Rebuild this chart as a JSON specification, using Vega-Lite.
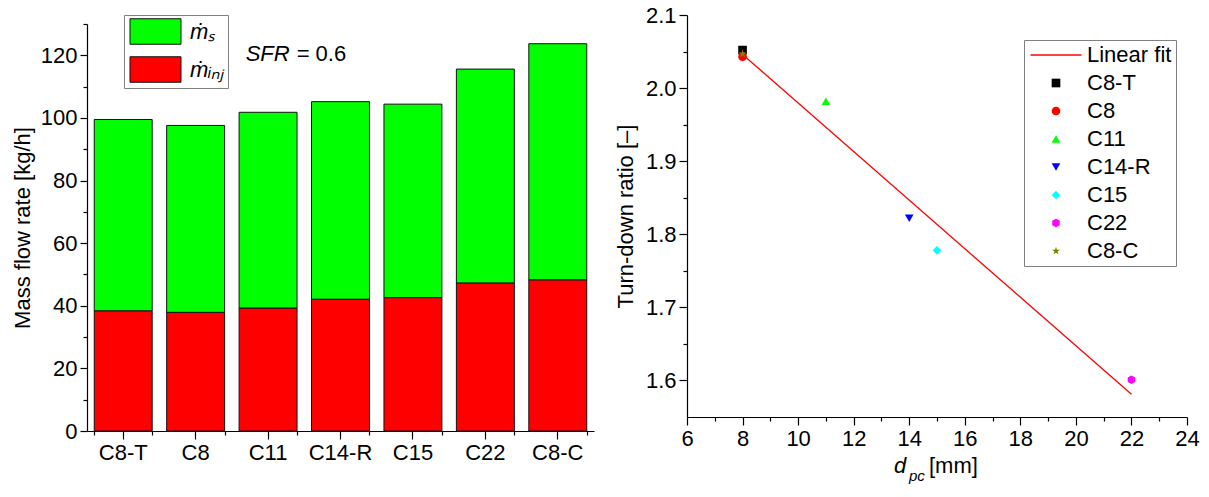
{
  "$schema": "https://vega.github.io/schema/vega-lite/v6.json",
  "padding": {"left": 11, "top": 4, "right": 5, "bottom": 5},
  "spacing": 20,
  "background": "white",
  "resolve": {"scale": {"color": "independent", "shape": "independent"}, "legend": {"color": "independent", "shape": "independent"}},
  "config": {
    "font": "Liberation Sans",
    "view": {"stroke": null},
    "axis": {
      "domainColor": "black", "domainWidth": 1.2, "tickColor": "black", "tickWidth": 1.2,
      "labelColor": "black", "labelFontSize": 22, "labelFont": "Liberation Sans",
      "titleFont": "Liberation Sans", "titleFontSize": 22, "titleFontWeight": "normal", "titleColor": "black",
      "grid": false, "labelPadding": 3, "labelOverlap": false, "labelFlush": false
    }
  },
  "hconcat": [
    {
      "width": 507,
      "height": 416,
      "data": {"values": [
        {"config": "C8-T", "comp": "inj", "value": 38.4},
        {"config": "C8-T", "comp": "s", "value": 61.1},
        {"config": "C8", "comp": "inj", "value": 37.9},
        {"config": "C8", "comp": "s", "value": 59.7},
        {"config": "C11", "comp": "inj", "value": 39.3},
        {"config": "C11", "comp": "s", "value": 62.5},
        {"config": "C14-R", "comp": "inj", "value": 42.1},
        {"config": "C14-R", "comp": "s", "value": 63.1},
        {"config": "C15", "comp": "inj", "value": 42.6},
        {"config": "C15", "comp": "s", "value": 61.8},
        {"config": "C22", "comp": "inj", "value": 47.3},
        {"config": "C22", "comp": "s", "value": 68.3},
        {"config": "C8-C", "comp": "inj", "value": 48.3},
        {"config": "C8-C", "comp": "s", "value": 75.4}
      ]},
      "layer": [
        {
          "mark": {"type": "bar", "stroke": "#111111", "strokeWidth": 1},
          "encoding": {
            "x": {"field": "config", "type": "nominal", "sort": ["C8-T", "C8", "C11", "C14-R", "C15", "C22", "C8-C"],
                  "scale": {"paddingInner": 0.2, "paddingOuter": 0.1},
                  "axis": {"title": null, "labelAngle": 0, "tickSize": 8, "labelPadding": 3}},
            "y": {"field": "value", "type": "quantitative", "stack": "zero",
                  "scale": {"domain": [0, 130], "range": [416, 9], "nice": false},
                  "axis": {"title": "Mass flow rate [kg/h]", "values": [0, 20, 40, 60, 80, 100, 120], "tickSize": 7, "titlePadding": 6}},
            "color": {"field": "comp", "type": "nominal",
                      "scale": {"domain": ["s", "inj"], "range": ["#00ff00", "#ff0000"]},
                      "legend": {"orient": "none", "legendX": 37, "legendY": 0, "title": null,
                                 "symbolType": "M-2,-1H2V1H-2Z", "symbolSize": 650,
                                 "symbolStrokeColor": "#111111", "symbolStrokeWidth": 1, "symbolOpacity": 1,
                                 "symbolOffset": 15, "labelOffset": 21, "padding": 3, "rowPadding": 7,
                                 "strokeColor": "#808080", "fillColor": "white",
                                 "labelFontSize": 22, "labelFont": "Liberation Sans", "labelFontStyle": "italic", "labelColor": "black",
                                 "labelExpr": "datum.value === 's' ? 'ṁₛ' : 'ṁᵢₙⱼ'"}},
            "order": {"field": "comp", "sort": "ascending"}
          }
        },
        {
          "mark": {"type": "point", "opacity": 0},
          "encoding": {
            "x": {"field": "config", "type": "nominal", "sort": ["C8-T", "C8", "C11", "C14-R", "C15", "C22", "C8-C"],
                  "axis": {"orient": "bottom", "title": null, "labels": false, "domain": false, "tickBand": "extent", "tickSize": 4}},
            "y": {"field": "value", "type": "quantitative", "stack": null,
                  "axis": {"orient": "left", "title": null, "labels": false, "domain": false, "values": [10, 30, 50, 70, 90, 110, 130], "tickSize": 4}}
          }
        },
        {
          "data": {"values": [{"t": "SFR"}]},
          "mark": {"type": "text", "align": "left", "baseline": "alphabetic", "fontSize": 22, "fontStyle": "italic", "font": "Liberation Sans", "dx": 50, "color": "black"},
          "encoding": {
            "x": {"datum": "C8", "type": "nominal", "axis": null},
            "y": {"datum": 118.3, "type": "quantitative", "axis": null},
            "text": {"field": "t"}
          }
        },
        {
          "data": {"values": [{"t": "= 0.6"}]},
          "mark": {"type": "text", "align": "left", "baseline": "alphabetic", "fontSize": 22, "font": "Liberation Sans", "dx": 101, "color": "black"},
          "encoding": {
            "x": {"datum": "C8", "type": "nominal", "axis": null},
            "y": {"datum": 118.3, "type": "quantitative", "axis": null},
            "text": {"field": "t"}
          }
        }
      ],
      "resolve": {"axis": {"x": "independent", "y": "independent"}}
    },
    {
      "width": 500,
      "height": 402,
      "layer": [
        {
          "data": {"values": [{"x": 8, "y": 2.046}, {"x": 22, "y": 1.581}]},
          "mark": {"type": "line", "color": "#ff0000", "strokeWidth": 1.3},
          "encoding": {
            "x": {"field": "x", "type": "quantitative", "axis": null},
            "y": {"field": "y", "type": "quantitative", "axis": null}
          }
        },
        {
          "data": {"values": [
            {"name": "C8-T", "x": 8, "y": 2.052},
            {"name": "C8", "x": 8, "y": 2.043},
            {"name": "C11", "x": 11, "y": 1.982},
            {"name": "C14-R", "x": 14, "y": 1.822},
            {"name": "C15", "x": 15, "y": 1.778},
            {"name": "C22", "x": 22, "y": 1.601},
            {"name": "C8-C", "x": 8, "y": 2.047}
          ]},
          "mark": {"type": "point", "filled": true, "opacity": 1, "size": 75},
          "encoding": {
            "x": {"field": "x", "type": "quantitative", "scale": {"domain": [6, 24], "nice": false, "zero": false},
                  "axis": {"title": null, "values": [6, 8, 10, 12, 14, 16, 18, 20, 22, 24], "tickSize": 8}},
            "y": {"field": "y", "type": "quantitative", "scale": {"domain": [1.55, 2.1], "nice": false, "zero": false},
                  "axis": {"title": "Turn-down ratio [–]", "values": [1.6, 1.7, 1.8, 1.9, 2.0, 2.1], "format": ".1f", "tickSize": 8, "titlePadding": 8}},
            "color": {"field": "name", "type": "nominal",
                      "scale": {"domain": ["Linear fit", "C8-T", "C8", "C11", "C14-R", "C15", "C22", "C8-C"],
                                "range": ["#ff0000", "#000000", "#ff0000", "#00ff00", "#0000ff", "#00ffff", "#ff00ff", "#808000"]},
                      "legend": {"orient": "none", "legendX": 337, "legendY": 25, "title": null,
                                 "symbolSize": 75, "symbolOffset": 17, "labelOffset": 20, "padding": 4, "rowPadding": 6,
                                 "strokeColor": "#808080", "fillColor": "white", "symbolOpacity": 1,
                                 "labelFontSize": 22, "labelFont": "Liberation Sans", "labelColor": "black",
                                 "encode": {"symbols": {"update": {
                                   "size": {"signal": "datum.value === 'Linear fit' ? 2601 : 75"},
                                   "stroke": {"signal": "datum.value === 'Linear fit' ? '#ff0000' : 'transparent'"},
                                   "strokeWidth": {"value": 1.5}}}}}},
            "shape": {"field": "name", "type": "nominal",
                      "scale": {"domain": ["Linear fit", "C8-T", "C8", "C11", "C14-R", "C15", "C22", "C8-C"],
                                "range": ["stroke", "square", "circle", "triangle-up", "triangle-down", "diamond",
                                          "M0,-1L0.866,-0.5L0.866,0.5L0,1L-0.866,0.5L-0.866,-0.5Z",
                                          "M0,-1L0.225,-0.309L0.951,-0.309L0.363,0.118L0.588,0.809L0,0.382L-0.588,0.809L-0.363,0.118L-0.951,-0.309L-0.225,-0.309Z"]},
                      "legend": {"orient": "none", "legendX": 337, "legendY": 25, "title": null,
                                 "symbolSize": 75, "symbolOffset": 17, "labelOffset": 20, "padding": 4, "rowPadding": 6,
                                 "strokeColor": "#808080", "fillColor": "white", "symbolOpacity": 1,
                                 "labelFontSize": 22, "labelFont": "Liberation Sans", "labelColor": "black",
                                 "encode": {"symbols": {"update": {
                                   "size": {"signal": "datum.value === 'Linear fit' ? 2601 : 75"},
                                   "stroke": {"signal": "datum.value === 'Linear fit' ? '#ff0000' : 'transparent'"},
                                   "strokeWidth": {"value": 1.5}}}}}}
          }
        },
        {
          "data": {"values": [{"x": 8, "y": 2.052}]},
          "mark": {"type": "point", "opacity": 0},
          "encoding": {
            "x": {"field": "x", "type": "quantitative",
                  "axis": {"orient": "bottom", "title": null, "labels": false, "domain": false, "values": [7, 9, 11, 13, 15, 17, 19, 21, 23], "tickSize": 4}},
            "y": {"field": "y", "type": "quantitative",
                  "axis": {"orient": "left", "title": null, "labels": false, "domain": false, "values": [1.65, 1.75, 1.85, 1.95, 2.05], "tickSize": 4}}
          }
        },
        {
          "data": {"values": [{"t": "d"}]},
          "mark": {"type": "text", "align": "left", "baseline": "alphabetic", "fontSize": 22, "fontStyle": "italic", "font": "Liberation Sans", "dx": -43, "dy": 56, "color": "black"},
          "encoding": {
            "x": {"datum": 15, "type": "quantitative", "axis": null},
            "y": {"datum": 1.55, "type": "quantitative", "axis": null},
            "text": {"field": "t"}
          }
        },
        {
          "data": {"values": [{"t": "pc"}]},
          "mark": {"type": "text", "align": "left", "baseline": "alphabetic", "fontSize": 15, "fontStyle": "italic", "font": "Liberation Sans", "dx": -28, "dy": 64, "color": "black"},
          "encoding": {
            "x": {"datum": 15, "type": "quantitative", "axis": null},
            "y": {"datum": 1.55, "type": "quantitative", "axis": null},
            "text": {"field": "t"}
          }
        },
        {
          "data": {"values": [{"t": "[mm]"}]},
          "mark": {"type": "text", "align": "left", "baseline": "alphabetic", "fontSize": 22, "font": "Liberation Sans", "dx": -8, "dy": 56, "color": "black"},
          "encoding": {
            "x": {"datum": 15, "type": "quantitative", "axis": null},
            "y": {"datum": 1.55, "type": "quantitative", "axis": null},
            "text": {"field": "t"}
          }
        }
      ],
      "resolve": {"axis": {"x": "independent", "y": "independent"}}
    }
  ]
}
